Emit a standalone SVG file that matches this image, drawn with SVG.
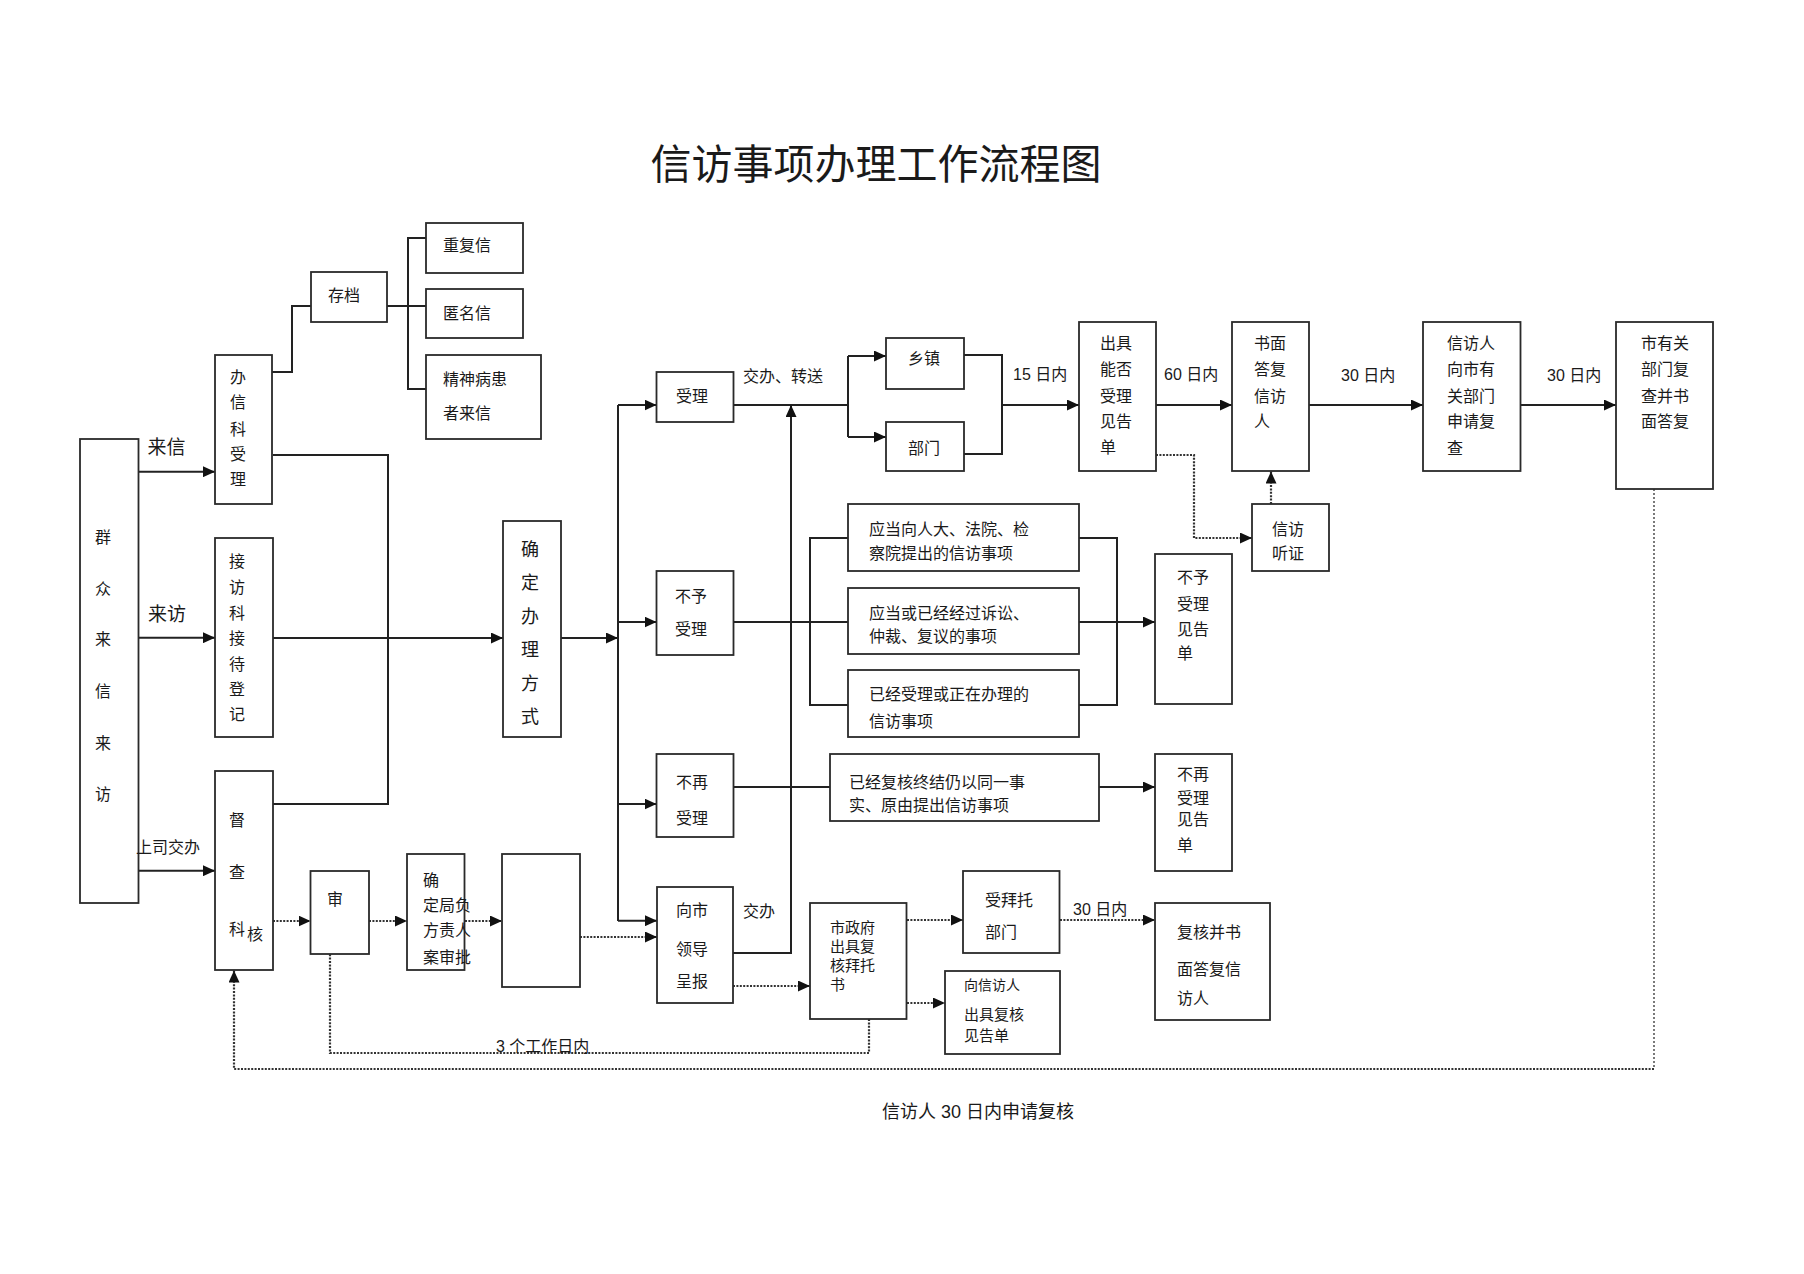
<svg xmlns="http://www.w3.org/2000/svg" width="1804" height="1274" viewBox="0 0 1804 1274">
<defs>
<marker id="ar" markerUnits="userSpaceOnUse" markerWidth="13" markerHeight="11" refX="12" refY="5.5" orient="auto">
<path d="M0,0 L12,5.5 L0,11 z" fill="#111"/>
</marker>
<style>
.box{fill:#fff;stroke:#2a2a2a;stroke-width:1.8}
.t{font-family:"Noto Sans CJK SC","Noto Sans CJK JP",sans-serif;font-size:16px;fill:#1a1a1a;dominant-baseline:central}
.m{text-anchor:middle}
.n{font-family:"Liberation Sans","Noto Sans CJK SC",sans-serif;font-size:16px;fill:#1a1a1a;dominant-baseline:central}
.ln{fill:none;stroke:#222;stroke-width:2}
.dt{fill:none;stroke:#333;stroke-width:2.2;stroke-dasharray:2 1.4}
.dtn{fill:none;stroke:#333;stroke-width:1.3;stroke-dasharray:2 2}
.s15{font-size:15px}
</style>
</defs>
<rect width="1804" height="1274" fill="#fff"/>
<text x="876" y="161" class="t m" style="font-size:41px">信访事项办理工作流程图</text>

<g id="connectors">
<line class="ln" x1="138.5" y1="471.7" x2="215" y2="471.7" marker-end="url(#ar)"/>
<line class="ln" x1="138.5" y1="637.7" x2="215" y2="637.7" marker-end="url(#ar)"/>
<line class="ln" x1="138.5" y1="870.7" x2="215" y2="870.7" marker-end="url(#ar)"/>
<polyline class="ln" points="272,372 292,372 292,306 311,306"/>
<polyline class="ln" points="387,306 426,306"/>
<polyline class="ln" points="426,238 408,238 408,389 426,389"/>
<polyline class="ln" points="273,455 388,455 388,804 273,804"/>
<line class="ln" x1="273" y1="638" x2="503" y2="638" marker-end="url(#ar)"/>
<line class="ln" x1="561" y1="638" x2="618" y2="638" marker-end="url(#ar)"/>
<line class="ln" x1="618" y1="405" x2="618" y2="921"/>
<line class="ln" x1="618" y1="405" x2="656.5" y2="405" marker-end="url(#ar)"/>
<line class="ln" x1="618" y1="622" x2="656.5" y2="622" marker-end="url(#ar)"/>
<line class="ln" x1="618" y1="804" x2="656.5" y2="804" marker-end="url(#ar)"/>
<line class="ln" x1="618" y1="920.7" x2="657" y2="920.7" marker-end="url(#ar)"/>
<line class="ln" x1="733" y1="405" x2="848" y2="405"/>
<line class="ln" x1="848" y1="356" x2="848" y2="437"/>
<line class="ln" x1="848" y1="356" x2="886" y2="356" marker-end="url(#ar)"/>
<line class="ln" x1="848" y1="437" x2="886" y2="437" marker-end="url(#ar)"/>
<polyline class="ln" points="733,953 791,953 791,405" marker-end="url(#ar)"/>
<polyline class="ln" points="964,355 1002,355 1002,454 964,454"/>
<line class="ln" x1="1002" y1="405" x2="1079" y2="405" marker-end="url(#ar)"/>
<line class="ln" x1="1156" y1="405" x2="1232" y2="405" marker-end="url(#ar)"/>
<line class="ln" x1="1309" y1="405" x2="1423" y2="405" marker-end="url(#ar)"/>
<line class="ln" x1="1520.6" y1="405" x2="1616" y2="405" marker-end="url(#ar)"/>
<line class="ln" x1="733" y1="622" x2="848" y2="622"/>
<polyline class="ln" points="848,538 810,538 810,705 848,705"/>
<polyline class="ln" points="1079,538 1117,538 1117,705 1079,705"/>
<line class="ln" x1="1079" y1="622" x2="1155" y2="622" marker-end="url(#ar)"/>
<line class="ln" x1="733" y1="787" x2="830" y2="787"/>
<line class="ln" x1="1099" y1="787" x2="1155" y2="787" marker-end="url(#ar)"/>

<line class="dt" x1="273" y1="921" x2="310.5" y2="921" marker-end="url(#ar)"/>
<line class="dt" x1="369" y1="921" x2="407" y2="921" marker-end="url(#ar)"/>
<line class="dt" x1="465" y1="921" x2="502" y2="921" marker-end="url(#ar)"/>
<line class="dt" x1="580" y1="937" x2="657" y2="937" marker-end="url(#ar)"/>
<line class="dt" x1="733" y1="986" x2="810" y2="986" marker-end="url(#ar)"/>
<line class="dt" x1="907" y1="920" x2="963" y2="920" marker-end="url(#ar)"/>
<line class="dt" x1="1060" y1="920" x2="1155" y2="920" marker-end="url(#ar)"/>
<line class="dt" x1="907" y1="1003" x2="945" y2="1003" marker-end="url(#ar)"/>
<polyline class="dt" points="869,1019 869,1053 330,1053 330,954"/>
<polyline class="dt" points="1156,455 1194,455 1194,538 1252,538" marker-end="url(#ar)"/>
<line class="dt" x1="1271" y1="504" x2="1271" y2="471.5" marker-end="url(#ar)"/>
<polyline class="dtn" points="1654,489 1654,1069"/>
<polyline class="dt" points="1654,1069 234,1069 234,970.5" marker-end="url(#ar)"/>
</g>

<g id="n-qunzhong"><rect class="box" x="80" y="439" width="58.5" height="464"/>
<text class="t m" x="103" y="536">群</text><text class="t m" x="103" y="588">众</text><text class="t m" x="103" y="638">来</text><text class="t m" x="103" y="690">信</text><text class="t m" x="103" y="742">来</text><text class="t m" x="103" y="793">访</text></g>

<g id="n-chongfu"><rect class="box" x="426" y="223" width="97" height="50"/><text class="t" x="443" y="244">重复信</text></g>
<g id="n-niming"><rect class="box" x="426" y="289" width="97" height="49"/><text class="t" x="443" y="312">匿名信</text></g>
<g id="n-jingshen"><rect class="box" x="426" y="355" width="115" height="84"/><text class="t" x="443" y="378">精神病患</text><text class="t" x="443" y="412">者来信</text></g>
<g id="n-cundang"><rect class="box" x="311" y="272" width="76" height="50"/><text class="t m" x="344" y="294">存档</text></g>

<g id="n-banxin"><rect class="box" x="215" y="355" width="57" height="149"/>
<text class="t m" x="238" y="376">办</text><text class="t m" x="238" y="401">信</text><text class="t m" x="238" y="428">科</text><text class="t m" x="238" y="453">受</text><text class="t m" x="238" y="478">理</text></g>

<g id="n-jiefang"><rect class="box" x="215" y="538" width="58" height="199"/>
<text class="t m" x="237" y="560">接</text><text class="t m" x="237" y="586">访</text><text class="t m" x="237" y="612">科</text><text class="t m" x="237" y="637">接</text><text class="t m" x="237" y="663">待</text><text class="t m" x="237" y="688">登</text><text class="t m" x="237" y="713">记</text></g>

<g id="n-ducha"><rect class="box" x="215" y="771" width="58" height="199"/>
<text class="t m" x="237" y="819">督</text><text class="t m" x="237" y="871">查</text><text class="t m" x="237" y="928">科</text><text class="t m" x="255" y="933">核</text></g>

<g id="n-queding"><rect class="box" x="503" y="521" width="58" height="216"/>
<text class="t m" x="530" y="548" style="font-size:18px">确</text><text class="t m" x="530" y="581" style="font-size:18px">定</text><text class="t m" x="530" y="615" style="font-size:18px">办</text><text class="t m" x="530" y="648" style="font-size:18px">理</text><text class="t m" x="530" y="682" style="font-size:18px">方</text><text class="t m" x="530" y="715" style="font-size:18px">式</text></g>

<g id="n-shen"><rect class="box" x="310.5" y="871" width="58.5" height="83"/><text class="t m" x="335" y="898">审</text></g>
<g id="n-juzeren"><rect class="box" x="407" y="854" width="57.5" height="116"/>
<text class="t" x="423" y="879">确</text><text class="t" x="423" y="904">定局负</text><text class="t" x="423" y="929">方责人</text><text class="t" x="423" y="956">案审批</text></g>
<g id="n-empty"><rect class="box" x="502" y="854" width="78" height="133"/></g>

<g id="n-shouli"><rect class="box" x="656.5" y="372" width="77" height="50"/><text class="t m" x="692" y="395">受理</text></g>
<g id="n-buyu"><rect class="box" x="656.5" y="571" width="77" height="84"/><text class="t" x="675" y="595">不予</text><text class="t" x="675" y="628">受理</text></g>
<g id="n-buzai"><rect class="box" x="656.5" y="754" width="77" height="83"/><text class="t" x="676" y="781">不再</text><text class="t" x="676" y="817">受理</text></g>
<g id="n-xiangshi"><rect class="box" x="657" y="887" width="76" height="116"/><text class="t" x="676" y="909">向市</text><text class="t" x="676" y="948">领导</text><text class="t" x="676" y="980">呈报</text></g>

<g id="n-xiangzhen"><rect class="box" x="886" y="338" width="78" height="51"/><text class="t m" x="924" y="357">乡镇</text></g>
<g id="n-bumen"><rect class="box" x="886" y="422" width="78" height="49"/><text class="t m" x="924" y="447">部门</text></g>

<g id="n-renda"><rect class="box" x="848" y="504" width="231" height="67"/><text class="t" x="869" y="528">应当向人大、法院、检</text><text class="t" x="869" y="552">察院提出的信访事项</text></g>
<g id="n-susong"><rect class="box" x="848" y="588" width="231" height="66"/><text class="t" x="869" y="612">应当或已经经过诉讼、</text><text class="t" x="869" y="635">仲裁、复议的事项</text></g>
<g id="n-yijing"><rect class="box" x="848" y="670" width="231" height="67"/><text class="t" x="869" y="693">已经受理或正在办理的</text><text class="t" x="869" y="720">信访事项</text></g>
<g id="n-fuhezhongjie"><rect class="box" x="830" y="754" width="269" height="67"/><text class="t" x="849" y="781">已经复核终结仍以同一事</text><text class="t" x="849" y="804">实、原由提出信访事项</text></g>

<g id="n-chuju"><rect class="box" x="1079" y="322" width="77" height="149"/>
<text class="t" x="1100" y="342">出具</text><text class="t" x="1100" y="368">能否</text><text class="t" x="1100" y="395">受理</text><text class="t" x="1100" y="420">见告</text><text class="t" x="1100" y="446">单</text></g>
<g id="n-shumian"><rect class="box" x="1232" y="322" width="77" height="149"/>
<text class="t" x="1254" y="342">书面</text><text class="t" x="1254" y="368">答复</text><text class="t" x="1254" y="395">信访</text><text class="t" x="1254" y="420">人</text></g>
<g id="n-tingzheng"><rect class="box" x="1252" y="504" width="77" height="67"/><text class="t" x="1272" y="528">信访</text><text class="t" x="1272" y="552">听证</text></g>
<g id="n-buyujiangao"><rect class="box" x="1155" y="554" width="77" height="150"/>
<text class="t" x="1177" y="576">不予</text><text class="t" x="1177" y="603">受理</text><text class="t" x="1177" y="628">见告</text><text class="t" x="1177" y="652">单</text></g>
<g id="n-buzaijiangao"><rect class="box" x="1155" y="754" width="77" height="117"/>
<text class="t" x="1177" y="773">不再</text><text class="t" x="1177" y="797">受理</text><text class="t" x="1177" y="818">见告</text><text class="t" x="1177" y="844">单</text></g>
<g id="n-shenqingfucha"><rect class="box" x="1423" y="322" width="97.5" height="149"/>
<text class="t" x="1447" y="342">信访人</text><text class="t" x="1447" y="368">向市有</text><text class="t" x="1447" y="395">关部门</text><text class="t" x="1447" y="420">申请复</text><text class="t" x="1447" y="447">查</text></g>
<g id="n-shiyouguan"><rect class="box" x="1616" y="322" width="97" height="167"/>
<text class="t" x="1641" y="342">市有关</text><text class="t" x="1641" y="368">部门复</text><text class="t" x="1641" y="395">查并书</text><text class="t" x="1641" y="420">面答复</text></g>

<g id="n-shizhengfu"><rect class="box" x="810" y="903" width="96.5" height="116"/>
<text class="t s15" x="830" y="926">市政府</text><text class="t s15" x="830" y="945">出具复</text><text class="t s15" x="830" y="964">核拜托</text><text class="t s15" x="830" y="983">书</text></g>
<g id="n-shoubaituo"><rect class="box" x="963" y="871" width="96.5" height="82"/><text class="t" x="985" y="899">受拜托</text><text class="t" x="985" y="931">部门</text></g>
<g id="n-xiangxinfangren"><rect class="box" x="945" y="971" width="115" height="83"/>
<text class="t" x="964" y="984" style="font-size:14px">向信访人</text><text class="t s15" x="964" y="1013">出具复核</text><text class="t s15" x="964" y="1034">见告单</text></g>
<g id="n-fuhebingshu"><rect class="box" x="1155" y="903" width="115" height="117"/>
<text class="t" x="1177" y="931">复核并书</text><text class="t" x="1177" y="968">面答复信</text><text class="t" x="1177" y="997">访人</text></g>

<g id="labels">
<text class="t m" x="166.5" y="445" style="font-size:19px">来信</text>
<text class="t m" x="167" y="612" style="font-size:19px">来访</text>
<text class="t" x="136" y="846">上司交办</text>
<text class="t" x="743" y="375">交办、转送</text>
<text class="n" x="1013" y="374">15 日内</text>
<text class="n" x="1164" y="374">60 日内</text>
<text class="n" x="1341" y="375">30 日内</text>
<text class="n" x="1547" y="375">30 日内</text>
<text class="t" x="743" y="910">交办</text>
<text class="n" x="1073" y="909">30 日内</text>
<text class="n" x="496" y="1046">3 个工作日内</text>
<text class="n" x="882" y="1112" style="font-size:18px">信访人 30 日内申请复核</text>
</g>
</svg>
